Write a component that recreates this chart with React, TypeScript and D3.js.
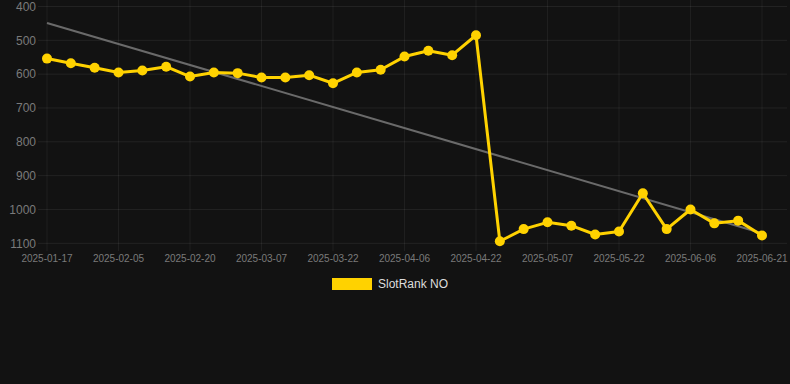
import React from "react";
import * as d3 from "d3";

const dates = [
  "2025-01-17", "2025-01-23", "2025-01-30", "2025-02-05", "2025-02-10", "2025-02-15",
  "2025-02-20", "2025-02-25", "2025-03-02", "2025-03-07", "2025-03-12", "2025-03-17",
  "2025-03-22", "2025-03-27", "2025-04-01", "2025-04-06", "2025-04-11", "2025-04-16",
  "2025-04-22", "2025-04-27", "2025-05-02", "2025-05-07", "2025-05-12", "2025-05-17",
  "2025-05-22", "2025-05-27", "2025-06-01", "2025-06-06", "2025-06-11", "2025-06-16",
  "2025-06-21",
];
const ranks = [
  554, 568, 581, 595, 589, 578, 607, 595, 597, 610, 610, 603, 627, 595, 587, 548,
  531, 544, 485, 1094, 1058, 1038, 1048, 1074, 1065, 952, 1058, 1000, 1041, 1033, 1077,
];
const yTicks = [400, 500, 600, 700, 800, 900, 1000, 1100];
const seriesName = "SlotRank NO";

const W = 790;
const H = 384;
const left = 47;
const right = 762;
const top = 6.5;
const bottom = 243.3;
const gold = "#FFD200";
const font = "Arial, 'Liberation Sans', Helvetica, sans-serif";

export default function App() {
  const x = d3.scaleLinear().domain([0, dates.length - 1]).range([left, right]);
  const y = d3.scaleLinear().domain([400, 1100]).range([top, bottom]);

  const n = ranks.length;
  const mx = d3.mean(ranks.map((_, i) => i)) as number;
  const my = d3.mean(ranks) as number;
  let sxy = 0;
  let sxx = 0;
  ranks.forEach((v, i) => {
    sxy += (i - mx) * (v - my);
    sxx += (i - mx) * (i - mx);
  });
  const slope = sxy / sxx;
  const icpt = my - slope * mx;

  const line = d3
    .line<number>()
    .x((_, i) => x(i))
    .y((d) => y(d));

  const labelIdx = dates.map((_, i) => i).filter((i) => i % 3 === 0);

  return (
    <svg
      width={W}
      height={H}
      style={{ position: "fixed", left: 0, top: 0, background: "#121212" }}
    >
      <rect x={0} y={0} width={W} height={H} fill="#121212" />
      {yTicks.map((t) => (
        <g key={t}>
          <line x1={38} x2={787} y1={y(t)} y2={y(t)} stroke="rgba(255,255,255,0.07)" strokeWidth={1} />
          <text
            x={36}
            y={y(t)}
            dy="0.35em"
            textAnchor="end"
            fill="#7a7a7a"
            fontSize={12}
            fontFamily={font}
          >
            {t}
          </text>
        </g>
      ))}
      {labelIdx.map((i) => (
        <g key={i}>
          <line x1={x(i)} x2={x(i)} y1={0} y2={251} stroke="rgba(255,255,255,0.06)" strokeWidth={1} />
          <text
            x={x(i)}
            y={262}
            textAnchor="middle"
            fill="#7a7a7a"
            fontSize={10}
            fontFamily={font}
          >
            {dates[i]}
          </text>
        </g>
      ))}
      <line
        x1={x(0)}
        y1={y(icpt)}
        x2={x(n - 1)}
        y2={y(icpt + slope * (n - 1))}
        stroke="#6a6a6a"
        strokeWidth={2}
      />
      <path d={line(ranks) || ""} fill="none" stroke={gold} strokeWidth={3} strokeLinejoin="round" />
      {ranks.map((v, i) => (
        <circle key={i} cx={x(i)} cy={y(v)} r={5} fill={gold} />
      ))}
      <rect x={332} y={278} width={40} height={12} fill={gold} />
      <text x={378} y={284} dy="0.35em" fill="#dddddd" fontSize={12} fontFamily={font}>
        {seriesName}
      </text>
    </svg>
  );
}
